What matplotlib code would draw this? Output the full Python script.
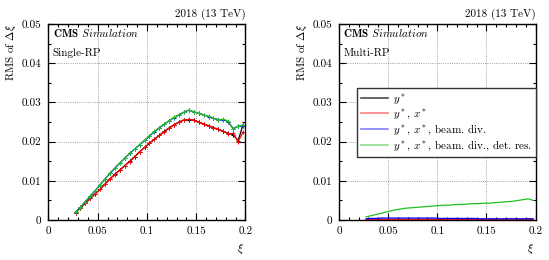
import matplotlib
matplotlib.use("Agg")
import matplotlib.pyplot as plt
from matplotlib.lines import Line2D
from matplotlib.ticker import MultipleLocator

plt.rcParams['font.family'] = 'serif'
plt.rcParams['font.serif'] = ['cmr10']
plt.rcParams['mathtext.fontset'] = 'cm'
plt.rcParams['axes.formatter.use_mathtext'] = True
plt.rcParams['font.size'] = 8

# bin centres in xi
xi = [0.0275, 0.0325, 0.0375, 0.0425, 0.0475, 0.0525, 0.0575, 0.0625, 0.0675, 0.0725,
      0.0775, 0.0825, 0.0875, 0.0925, 0.0975, 0.1025, 0.1075, 0.1125, 0.1175, 0.1225,
      0.1275, 0.1325, 0.1375, 0.1425, 0.1475, 0.1525, 0.1575, 0.1625, 0.1675, 0.1725,
      0.1775, 0.1825, 0.1875, 0.1925, 0.1975]

# single-RP
single_ystar = [0.0019, 0.0031, 0.0043, 0.0055, 0.0067, 0.0079, 0.0092, 0.0105, 0.0117, 0.0128,
                0.0139, 0.0150, 0.0162, 0.0174, 0.0185, 0.0196, 0.0206, 0.0216, 0.0226, 0.0235,
                0.0243, 0.0250, 0.0255, 0.0256, 0.0255, 0.0250, 0.0245, 0.0240, 0.0235, 0.0231,
                0.0226, 0.0221, 0.0218, 0.0202, 0.0243]
single_xstar = [0.0019, 0.0031, 0.0043, 0.0055, 0.0067, 0.0079, 0.0092, 0.0105, 0.0116, 0.0127,
                0.0138, 0.0149, 0.0161, 0.0173, 0.0185, 0.0196, 0.0206, 0.0216, 0.0225, 0.0234,
                0.0242, 0.0250, 0.0255, 0.0257, 0.0254, 0.0250, 0.0244, 0.0241, 0.0236, 0.0231,
                0.0226, 0.0220, 0.0221, 0.0200, 0.0224]
single_beam = [0.0020, 0.0033, 0.0047, 0.0061, 0.0075, 0.0090, 0.0105, 0.0119, 0.0132, 0.0145,
               0.0158, 0.0170, 0.0181, 0.0192, 0.0203, 0.0214, 0.0225, 0.0235, 0.0244, 0.0253,
               0.0261, 0.0268, 0.0275, 0.0280, 0.0276, 0.0272, 0.0268, 0.0264, 0.0259, 0.0256,
               0.0256, 0.0251, 0.0233, 0.0239, 0.0241]
single_det = [0.0020, 0.0033, 0.0047, 0.0061, 0.0075, 0.0090, 0.0105, 0.0120, 0.0133, 0.0146,
              0.0158, 0.0170, 0.0181, 0.0192, 0.0203, 0.0215, 0.0226, 0.0236, 0.0245, 0.0253,
              0.0262, 0.0269, 0.0275, 0.0281, 0.0276, 0.0272, 0.0268, 0.0265, 0.0260, 0.0256,
              0.0257, 0.0252, 0.0233, 0.0240, 0.0242]

# multi-RP
multi_ystar = [0.0001, 0.0001, 0.0001, 0.0001, 0.0001, 0.0001, 0.0001, 0.0001, 0.0001, 0.0001,
               0.0001, 0.0001, 0.0001, 0.0001, 0.0001, 0.0001, 0.0001, 0.0001, 0.0001, 0.0001,
               0.0001, 0.0001, 0.0001, 0.0001, 0.0001, 0.0001, 0.0001, 0.0001, 0.0001, 0.0001,
               0.0001, 0.0001, 0.0001, 0.0001, 0.0001]
multi_xstar = [0.0002, 0.0002, 0.0002, 0.0002, 0.0002, 0.0002, 0.0002, 0.0002, 0.0002, 0.0002,
               0.0002, 0.0002, 0.0002, 0.0002, 0.0002, 0.0002, 0.0002, 0.0002, 0.0002, 0.0002,
               0.0002, 0.0002, 0.0002, 0.0002, 0.0002, 0.0002, 0.0002, 0.0002, 0.0002, 0.0003,
               0.0003, 0.0002, 0.0002, 0.0002, 0.0002]
multi_beam = [0.0003, 0.0004, 0.0004, 0.0005, 0.0005, 0.0005, 0.0005, 0.0005, 0.0005, 0.0005,
              0.0005, 0.0005, 0.0005, 0.0005, 0.0005, 0.0004, 0.0004, 0.0004, 0.0004, 0.0004,
              0.0004, 0.0004, 0.0004, 0.0003, 0.0003, 0.0003, 0.0003, 0.0003, 0.0003, 0.0003,
              0.0003, 0.0003, 0.0003, 0.0003, 0.0003]
multi_det = [0.0008, 0.0011, 0.0014, 0.0017, 0.0020, 0.0023, 0.0026, 0.0028, 0.0030, 0.0031,
             0.0032, 0.0033, 0.0034, 0.0035, 0.0036, 0.0037, 0.0038, 0.0038, 0.0039, 0.0040,
             0.0040, 0.0041, 0.0042, 0.0042, 0.0043, 0.0043, 0.0044, 0.0045, 0.0046, 0.0047,
             0.0048, 0.0050, 0.0052, 0.0054, 0.0050]

labels = [r'$y^*$', r'$y^*$, $x^*$', r'$y^*$, $x^*$, beam. div.',
          r'$y^*$, $x^*$, beam. div., det. res.']
colors = ['black', '#ff0000', '#0000ff', '#1fc01f']


def style_axes(ax, tag):
  ax.set_xlim(0, 0.2)
  ax.set_ylim(0, 0.05)
  ax.xaxis.set_minor_locator(MultipleLocator(0.01))
  ax.yaxis.set_minor_locator(MultipleLocator(0.005))
  ax.set_xticks([0, 0.05, 0.1, 0.15, 0.2], ['0', '0.05', '0.1', '0.15', '0.2'])
  ax.set_yticks([0, 0.01, 0.02, 0.03, 0.04, 0.05], ['0', '0.01', '0.02', '0.03', '0.04', '0.05'])
  ax.tick_params(which='both', direction='in', top=True, right=True, width=0.8)
  ax.tick_params(which='major', length=5, pad=5)
  ax.tick_params(which='minor', length=2.5)
  ax.grid(True, which='major', linestyle=':', color='gray', linewidth=0.6)
  for s in ax.spines.values():
    s.set_linewidth(1.0)
  ax.set_ylabel(r'RMS of $\Delta\xi$', loc='top')
  ax.yaxis.set_label_coords(-0.155, 1.0)
  ax.set_xlabel(r'$\xi$', loc='right')
  ax.xaxis.set_label_coords(0.99, -0.11)
  ax.text(1.0, 1.02, '2018 (13 TeV)', transform=ax.transAxes, ha='right', va='bottom')
  ax.text(0.022, 0.955, r'$\mathbf{CMS}$ $\mathit{Simulation}$', transform=ax.transAxes,
          ha='left', va='center')
  ax.text(0.022, 0.852, tag, transform=ax.transAxes, ha='left', va='center')


def draw(ax, series, err):
  for ys, c in zip(series, colors):
    ax.errorbar(xi, ys, yerr=err, color=c, lw=0.9, marker='+', ms=3.5, mew=0.7,
                elinewidth=0.7, capsize=0)


fig = plt.figure(figsize=(5.49, 2.60), dpi=100)
ax1 = fig.add_axes([0.0883, 0.1538, 0.3588, 0.7538])
ax2 = fig.add_axes([0.6175, 0.1538, 0.3580, 0.7538])

draw(ax1, [single_ystar, single_xstar, single_beam, single_det], 0.0003)
style_axes(ax1, 'Single-RP')

for ys, c in zip([multi_ystar, multi_xstar, multi_beam, multi_det], colors):
  ax2.plot(xi, ys, color=c, lw=0.9)
style_axes(ax2, 'Multi-RP')

handles = [Line2D([], [], color=c, lw=1.2, alpha=a)
           for c, a in zip(colors, [0.7, 0.5, 0.5, 0.5])]
leg = ax2.legend(handles, labels, loc='upper right', bbox_to_anchor=(1.0, 0.673),
                 borderaxespad=0, fancybox=False, framealpha=1, edgecolor='#333333',
                 handlelength=2.4, handletextpad=0.45, labelspacing=0.1, fontsize=8,
                 borderpad=0.35)
leg.get_frame().set_linewidth(1.0)

fig.savefig('out.png', dpi=100)
